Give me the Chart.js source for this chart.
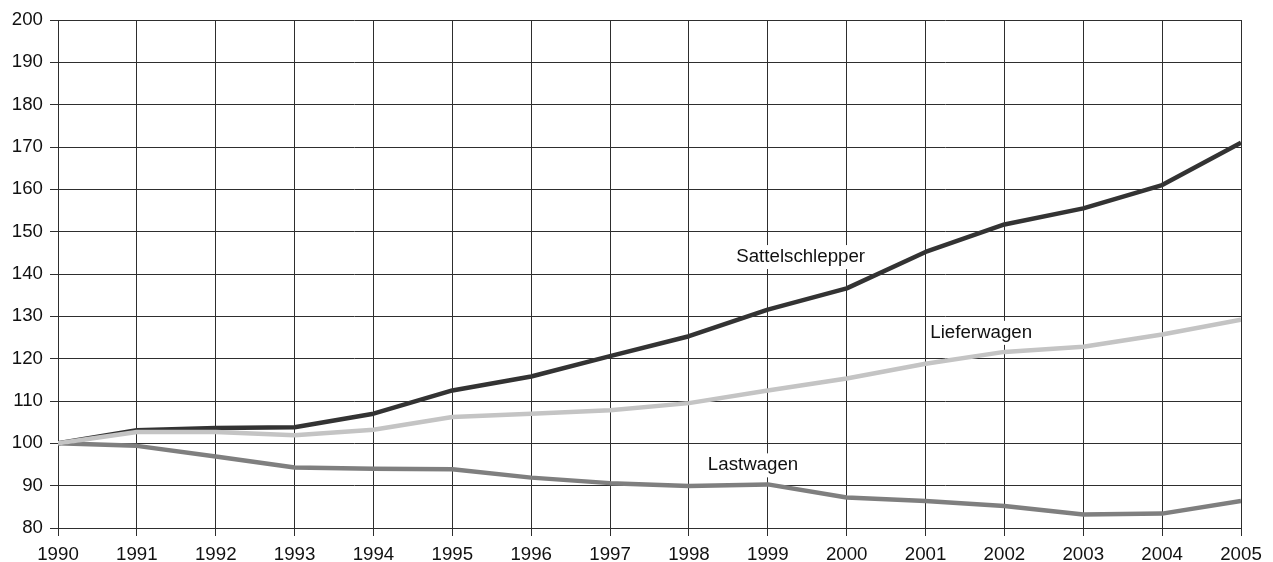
<!DOCTYPE html>
<html>
<head>
<meta charset="utf-8">
<script src="https://cdn.jsdelivr.net/npm/chart.js@4"></script>
<style>
  html, body { margin: 0; padding: 0; background: #fff; }
  #wrap { width: 1273px; height: 562px; }
</style>
</head>
<body>
<div id="wrap"><canvas id="myChart" width="1273" height="562"></canvas></div>
<script>
// data (index 1990 = 100)
const years = [1990, 1991, 1992, 1993, 1994, 1995, 1996, 1997, 1998, 1999, 2000, 2001, 2002, 2003, 2004, 2005]
const sattelschlepper = [100, 103.1, 103.6, 103.8, 107.0, 112.5, 115.8, 120.6, 125.3, 131.6, 136.6, 145.2, 151.7, 155.5, 161.0, 171.0]
const lieferwagen = [100, 102.7, 102.7, 101.9, 103.2, 106.2, 107.0, 107.8, 109.5, 112.5, 115.3, 118.8, 121.6, 122.8, 125.7, 129.2]
const lastwagen = [100, 99.4, 96.9, 94.3, 94.0, 93.9, 91.9, 90.6, 89.9, 90.3, 87.2, 86.4, 85.2, 83.2, 83.4, 86.4]

// series labels written inside the plot
const labelTexts = ['Sattelschlepper', 'Lieferwagen', 'Lastwagen']
const labelX = [1998.6, 2001.06, 1998.24]
const labelY = [144.0, 126.1, 94.8]

const FONT = '"Liberation Sans", Arial, Helvetica, sans-serif'
const FONT_SIZE = 18.7
const gridColor = '#2e2e2e'

function toPoints(arr) {
  return arr.map((v, i) => ({ x: years[i], y: v }))
}

const seriesLabels = {
  id: 'seriesLabels',
  beforeDatasetsDraw(chart) {
    const ctx = chart.ctx
    const xs = chart.scales.x
    const ys = chart.scales.y
    ctx.save()
    ctx.font = FONT_SIZE + 'px ' + FONT
    ctx.textBaseline = 'middle'
    ctx.textAlign = 'left'
    labelTexts.forEach((t, i) => {
      const px = xs.getPixelForValue(labelX[i])
      const py = ys.getPixelForValue(labelY[i])
      const w = ctx.measureText(t).width
      ctx.fillStyle = '#fff'
      ctx.fillRect(px - 3, py - 12, w + 6, 24)
      ctx.fillStyle = '#111'
      ctx.fillText(t, px, py)
    })
    ctx.restore()
  }
}

const chart = document.querySelector('#myChart')

let myChart = new Chart(chart, {
  type: 'line',
  data: {
    datasets: [
      {
        label: 'Lieferwagen',
        data: toPoints(lieferwagen),
        borderColor: '#c4c4c4',
        borderWidth: 4.5,
        order: 0
      },
      {
        label: 'Sattelschlepper',
        data: toPoints(sattelschlepper),
        borderColor: '#333333',
        borderWidth: 4.5,
        order: 1
      },
      {
        label: 'Lastwagen',
        data: toPoints(lastwagen),
        borderColor: '#7f7f7f',
        borderWidth: 4.5,
        order: 2
      }
    ]
  },
  options: {
    responsive: false,
    animation: false,
    elements: {
      point: { radius: 0, hoverRadius: 0 },
      line: { tension: 0, borderCapStyle: 'butt', borderJoinStyle: 'round' }
    },
    layout: { padding: { top: 20, right: 32, left: 0, bottom: 0 } },
    plugins: {
      legend: { display: false },
      tooltip: { enabled: false }
    },
    scales: {
      x: {
        type: 'linear',
        min: 1990,
        max: 2005,
        afterFit(scale) { scale.height = 34 },
        grid: { color: gridColor, lineWidth: 1, tickLength: 8, tickColor: gridColor },
        border: { color: gridColor, width: 1 },
        ticks: {
          stepSize: 1,
          autoSkip: false,
          maxRotation: 0,
          padding: 8,
          color: '#111',
          font: { family: FONT, size: FONT_SIZE },
          callback: (v) => String(v)
        }
      },
      y: {
        min: 80,
        max: 200,
        afterFit(scale) { scale.width = 58 },
        grid: { color: gridColor, lineWidth: 1, tickLength: 8, tickColor: gridColor },
        border: { color: gridColor, width: 1 },
        ticks: {
          stepSize: 10,
          padding: 7,
          color: '#111',
          font: { family: FONT, size: FONT_SIZE }
        }
      }
    }
  },
  plugins: [seriesLabels]
});
</script>
</body>
</html>
